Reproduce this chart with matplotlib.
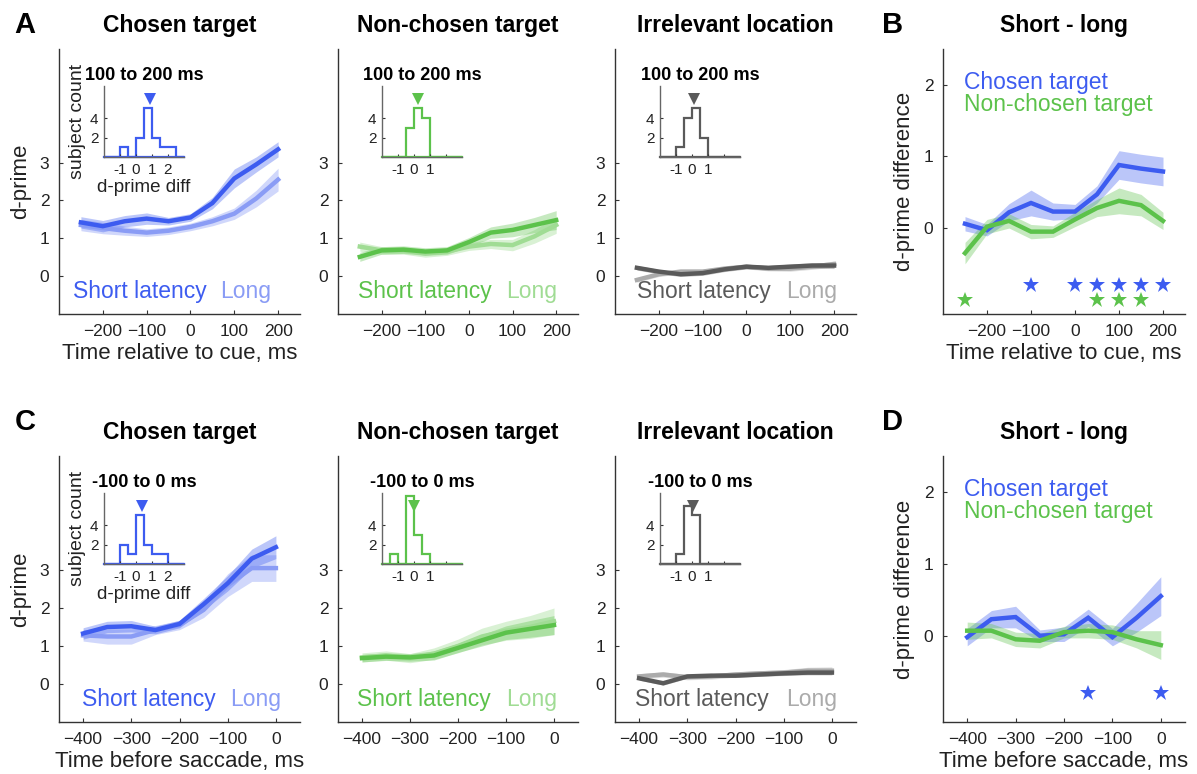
import numpy as np
import matplotlib
matplotlib.use("Agg")
import matplotlib.pyplot as plt

plt.rcParams['font.family'] = ['Liberation Sans', 'DejaVu Sans']
plt.rcParams['text.color'] = '#222222'
plt.rcParams['axes.labelcolor'] = '#222222'

# time axes
t_cue = [-250, -200, -150, -100, -50, 0, 50, 100, 150, 200]
t_sac = [-400, -350, -300, -250, -200, -150, -100, -50, 0]

# d-prime, aligned to cue (short / long latency, mean and sem)
cue_chosen_short = [1.42, 1.32, 1.45, 1.52, 1.45, 1.55, 1.93, 2.58, 2.95, 3.35]
cue_chosen_short_sem = [0.15, 0.15, 0.15, 0.15, 0.10, 0.10, 0.15, 0.25, 0.20, 0.20]
cue_chosen_long = [1.35, 1.27, 1.20, 1.15, 1.20, 1.30, 1.45, 1.65, 2.05, 2.55]
cue_chosen_long_sem = [0.15, 0.15, 0.12, 0.10, 0.10, 0.10, 0.12, 0.15, 0.22, 0.30]
cue_nc_short = [0.51, 0.68, 0.70, 0.65, 0.68, 0.90, 1.15, 1.22, 1.35, 1.48]
cue_nc_short_sem = [0.12, 0.10, 0.10, 0.10, 0.10, 0.12, 0.15, 0.18, 0.20, 0.25]
cue_nc_long = [0.78, 0.68, 0.68, 0.60, 0.65, 0.78, 0.85, 0.82, 1.05, 1.35]
cue_nc_long_sem = [0.12, 0.10, 0.10, 0.10, 0.10, 0.10, 0.12, 0.15, 0.18, 0.22]
cue_ir_short = [0.22, 0.12, 0.05, 0.08, 0.18, 0.25, 0.22, 0.25, 0.28, 0.28]
cue_ir_short_sem = [0.06, 0.06, 0.06, 0.06, 0.06, 0.06, 0.06, 0.07, 0.07, 0.08]
cue_ir_long = [-0.10, 0.05, 0.12, 0.12, 0.20, 0.25, 0.20, 0.20, 0.25, 0.32]
cue_ir_long_sem = [0.06, 0.06, 0.06, 0.06, 0.06, 0.06, 0.06, 0.07, 0.07, 0.08]

# short - long, aligned to cue
cue_diff_chosen = [0.06, -0.03, 0.22, 0.35, 0.23, 0.23, 0.47, 0.88, 0.83, 0.79]
cue_diff_chosen_sem = [0.10, 0.08, 0.12, 0.18, 0.12, 0.10, 0.12, 0.20, 0.20, 0.20]
cue_diff_nc = [-0.35, 0.02, 0.10, -0.05, -0.05, 0.12, 0.28, 0.38, 0.32, 0.10]
cue_diff_nc_sem = [0.15, 0.10, 0.10, 0.10, 0.08, 0.10, 0.12, 0.18, 0.15, 0.12]
cue_star_chosen = [-100, 0, 50, 100, 150, 200]
cue_star_nc = [-250, 50, 100, 150]

# d-prime, aligned to saccade
sac_chosen_short = [1.33, 1.50, 1.52, 1.42, 1.58, 2.10, 2.65, 3.30, 3.60]
sac_chosen_short_sem = [0.15, 0.15, 0.15, 0.10, 0.10, 0.15, 0.20, 0.25, 0.30]
sac_chosen_long = [1.28, 1.25, 1.25, 1.42, 1.55, 1.95, 2.60, 3.05, 3.05]
sac_chosen_long_sem = [0.15, 0.20, 0.20, 0.12, 0.12, 0.20, 0.30, 0.35, 0.35]
sac_nc_short = [0.68, 0.72, 0.70, 0.75, 0.95, 1.15, 1.35, 1.45, 1.55]
sac_nc_short_sem = [0.10, 0.10, 0.10, 0.12, 0.12, 0.15, 0.18, 0.22, 0.25]
sac_nc_long = [0.70, 0.75, 0.68, 0.80, 1.00, 1.25, 1.40, 1.50, 1.65]
sac_nc_long_sem = [0.12, 0.12, 0.12, 0.15, 0.18, 0.22, 0.25, 0.30, 0.35]
sac_ir_short = [0.15, 0.02, 0.20, 0.22, 0.22, 0.25, 0.28, 0.30, 0.30]
sac_ir_short_sem = [0.05, 0.05, 0.05, 0.05, 0.05, 0.05, 0.05, 0.06, 0.06]
sac_ir_long = [0.20, 0.25, 0.18, 0.20, 0.25, 0.28, 0.30, 0.35, 0.35]
sac_ir_long_sem = [0.07, 0.07, 0.07, 0.07, 0.07, 0.07, 0.08, 0.09, 0.10]

# short - long, aligned to saccade
sac_diff_chosen = [-0.02, 0.23, 0.26, 0.00, 0.02, 0.25, -0.02, 0.25, 0.55]
sac_diff_chosen_sem = [0.12, 0.12, 0.15, 0.08, 0.10, 0.12, 0.12, 0.20, 0.27]
sac_diff_nc = [0.07, 0.07, -0.05, -0.07, 0.05, 0.07, 0.05, -0.05, -0.13]
sac_diff_nc_sem = [0.12, 0.10, 0.10, 0.10, 0.08, 0.10, 0.10, 0.12, 0.20]
sac_star_chosen = [-150, 0]

# per-subject histograms of d-prime diff (bin edges -2..3, step 0.5)
hist_edges = np.arange(-2, 3.01, 0.5)
hist_cue_chosen = [0, 0, 1, 0, 2, 5, 2, 1, 1, 0]
hist_cue_nc = [0, 0, 0, 3, 5, 4, 0, 0, 0, 0]
hist_cue_ir = [0, 0, 1, 4, 5, 2, 0, 0, 0, 0]
hist_sac_chosen = [0, 0, 2, 1, 5, 2, 1, 1, 0, 0]
hist_sac_nc = [0, 1, 0, 7, 3, 1, 0, 0, 0, 0]
hist_sac_ir = [0, 0, 1, 6, 5, 0, 0, 0, 0, 0]
hist_means_cue = [0.85, 0.25, 0.15]
hist_means_sac = [0.35, 0.0, 0.05]

blue_s, blue_l = '#3d5cf0', '#8a9cf5'
green_s, green_l = '#5cc24b', '#a0dc94'
gray_s, gray_l = '#5a5a5a', '#ababab'
axc = '#333333'

W, H = 1197, 774
fig = plt.figure(figsize=(W / 100, H / 100), dpi=100)


def px_axes(x0, x1, y0, y1):
    return fig.add_axes([x0 / W, 1 - y1 / H, (x1 - x0) / W, (y1 - y0) / H])


def style(ax, fs=12.5):
    for s in ['top', 'right']:
        ax.spines[s].set_visible(False)
    for s in ['left', 'bottom']:
        ax.spines[s].set_color(axc)
        ax.spines[s].set_linewidth(1.0)
    ax.tick_params(direction='in', length=3, width=0.8, colors=axc,
                   labelsize=fs, labelcolor='#222222', pad=7)


def band(ax, t, m, s, color, alpha=0.35, lw=3.2):
    m, s = np.array(m), np.array(s)
    ax.fill_between(t, m - s, m + s, color=color, alpha=alpha, lw=0)
    ax.plot(t, m, color=color, lw=lw, solid_joinstyle='miter')


cols_x = [(59, 300), (338, 578), (615, 856)]
rows_y = [(49, 314), (456, 722)]
inset_x = [104, 382, 660]
inset_y = [(86, 157), (493, 564)]
titles = ['Chosen target', 'Non-chosen target', 'Irrelevant location']
leg_x = [[0.058, 0.668], [0.083, 0.70], [0.09, 0.71]]
leg_x2 = [[0.095, 0.71], [0.08, 0.70], [0.085, 0.71]]

rows = [
    dict(t=t_cue, xlim=(-300, 250), xt=[-200, -100, 0, 100, 200],
         xlabel='Time relative to cue, ms', win='100 to 200 ms',
         series=[(cue_chosen_short, cue_chosen_short_sem, cue_chosen_long, cue_chosen_long_sem),
                 (cue_nc_short, cue_nc_short_sem, cue_nc_long, cue_nc_long_sem),
                 (cue_ir_short, cue_ir_short_sem, cue_ir_long, cue_ir_long_sem)],
         hists=[hist_cue_chosen, hist_cue_nc, hist_cue_ir], means=hist_means_cue,
         legx=leg_x,
         diff=(cue_diff_chosen, cue_diff_chosen_sem, cue_diff_nc, cue_diff_nc_sem),
         stars=(cue_star_chosen, cue_star_nc), letters=('A', 'B')),
    dict(t=t_sac, xlim=(-450, 50), xt=[-400, -300, -200, -100, 0],
         xlabel='Time before saccade, ms', win='-100 to 0 ms',
         series=[(sac_chosen_short, sac_chosen_short_sem, sac_chosen_long, sac_chosen_long_sem),
                 (sac_nc_short, sac_nc_short_sem, sac_nc_long, sac_nc_long_sem),
                 (sac_ir_short, sac_ir_short_sem, sac_ir_long, sac_ir_long_sem)],
         hists=[hist_sac_chosen, hist_sac_nc, hist_sac_ir], means=hist_means_sac,
         legx=leg_x2,
         diff=(sac_diff_chosen, sac_diff_chosen_sem, sac_diff_nc, sac_diff_nc_sem),
         stars=(sac_star_chosen, []), letters=('C', 'D')),
]
palettes = [(blue_s, blue_l), (green_s, green_l), (gray_s, gray_l)]

for r, row in enumerate(rows):
    y0, y1 = rows_y[r]
    for c in range(3):
        cs, cl = palettes[c]
        ax = px_axes(cols_x[c][0], cols_x[c][1], y0, y1)
        style(ax)
        ms, ss, ml, sl = row['series'][c]
        band(ax, row['t'], ml, sl, cl, alpha=0.4)
        band(ax, row['t'], ms, ss, cs, alpha=0.35)
        ax.set_xlim(*row['xlim'])
        ax.set_ylim(-1, 6)
        ax.set_xticks(row['xt'])
        ax.set_yticks([0, 1, 2, 3])
        ax.set_title(titles[c], fontsize=16.5, fontweight='bold', pad=12, color='black')
        if c == 0:
            ax.set_ylabel('d-prime', fontsize=16, labelpad=6)
            ax.set_xlabel(row['xlabel'], fontsize=16, labelpad=3)
        lx = row['legx'][c]
        ax.text(lx[0], 0.085, 'Short latency', color=cs, fontsize=16.5,
                transform=ax.transAxes, va='center')
        ax.text(lx[1], 0.085, 'Long', color=cl, fontsize=16.5,
                transform=ax.transAxes, va='center')

        # inset histogram
        iy0, iy1 = inset_y[r]
        ix = inset_x[c]
        ins = px_axes(ix, ix + 80, iy0, iy1)
        style(ins, fs=11)
        ins.tick_params(pad=4, length=2.5)
        ins.spines['left'].set_color('#666666')
        ins.spines['bottom'].set_color('#666666')
        hcol = cs if c < 2 else '#5a5a5a'
        ins.stairs(row['hists'][c], hist_edges, color=hcol, lw=1.6, baseline=0)
        ins.plot([-2, 3], [0, 0], color=hcol, lw=1.6, clip_on=False)
        ins.plot([row['means'][c]], [6.0], marker='v', color=hcol, ms=8.5, mew=0, clip_on=False)
        ins.set_xlim(-2, 3)
        ins.set_ylim(0, 7.3)
        ins.set_xticks([-1, 0, 1, 2])
        ins.set_xticklabels(['-1', '0', '1', '2'] if c == 0 else ['-1', '0', '1', ''])
        ins.set_yticks([2, 4])
        ins.set_title(row['win'], fontsize=13, fontweight='bold', pad=4, color='black')
        if c == 0:
            ins.set_ylabel('subject count', fontsize=14, labelpad=3)
            ins.set_xlabel('d-prime diff', fontsize=13.5, labelpad=2)

    # difference panel
    axd = px_axes(943, 1185, y0, y1)
    style(axd)
    dc, dcs, dn, dns = row['diff']
    band(axd, row['t'], dc, dcs, blue_s, alpha=0.35)
    band(axd, row['t'], dn, dns, green_s, alpha=0.35)
    sc, sn = row['stars']
    axd.plot(sc, [-0.8] * len(sc), ls='none', marker='*', ms=12, color=blue_s, mew=0)
    if len(sn):
        axd.plot(sn, [-1.0] * len(sn), ls='none', marker='*', ms=12, color=green_s, mew=0)
    axd.set_xlim(*row['xlim'])
    axd.set_ylim(-1.2, 2.5)
    axd.set_xticks(row['xt'])
    axd.set_yticks([0, 1, 2])
    axd.set_title('Short - long', fontsize=16.5, fontweight='bold', pad=12, color='black')
    axd.set_ylabel('d-prime difference', fontsize=16, labelpad=6)
    axd.set_xlabel(row['xlabel'], fontsize=16, labelpad=3)
    axd.text(0.087, 0.873, 'Chosen target', color=blue_s, fontsize=16.5,
             transform=axd.transAxes, va='center')
    axd.text(0.087, 0.79, 'Non-chosen target', color=green_s, fontsize=16.5,
             transform=axd.transAxes, va='center')

    # panel letters
    ly = 25 if r == 0 else 422
    fig.text(25 / W, 1 - ly / H, row['letters'][0], fontsize=21, fontweight='bold',
             ha='center', va='center', color='black')
    fig.text(893 / W, 1 - ly / H, row['letters'][1], fontsize=21, fontweight='bold',
             ha='center', va='center', color='black')

fig.savefig('out.png', dpi=100)
